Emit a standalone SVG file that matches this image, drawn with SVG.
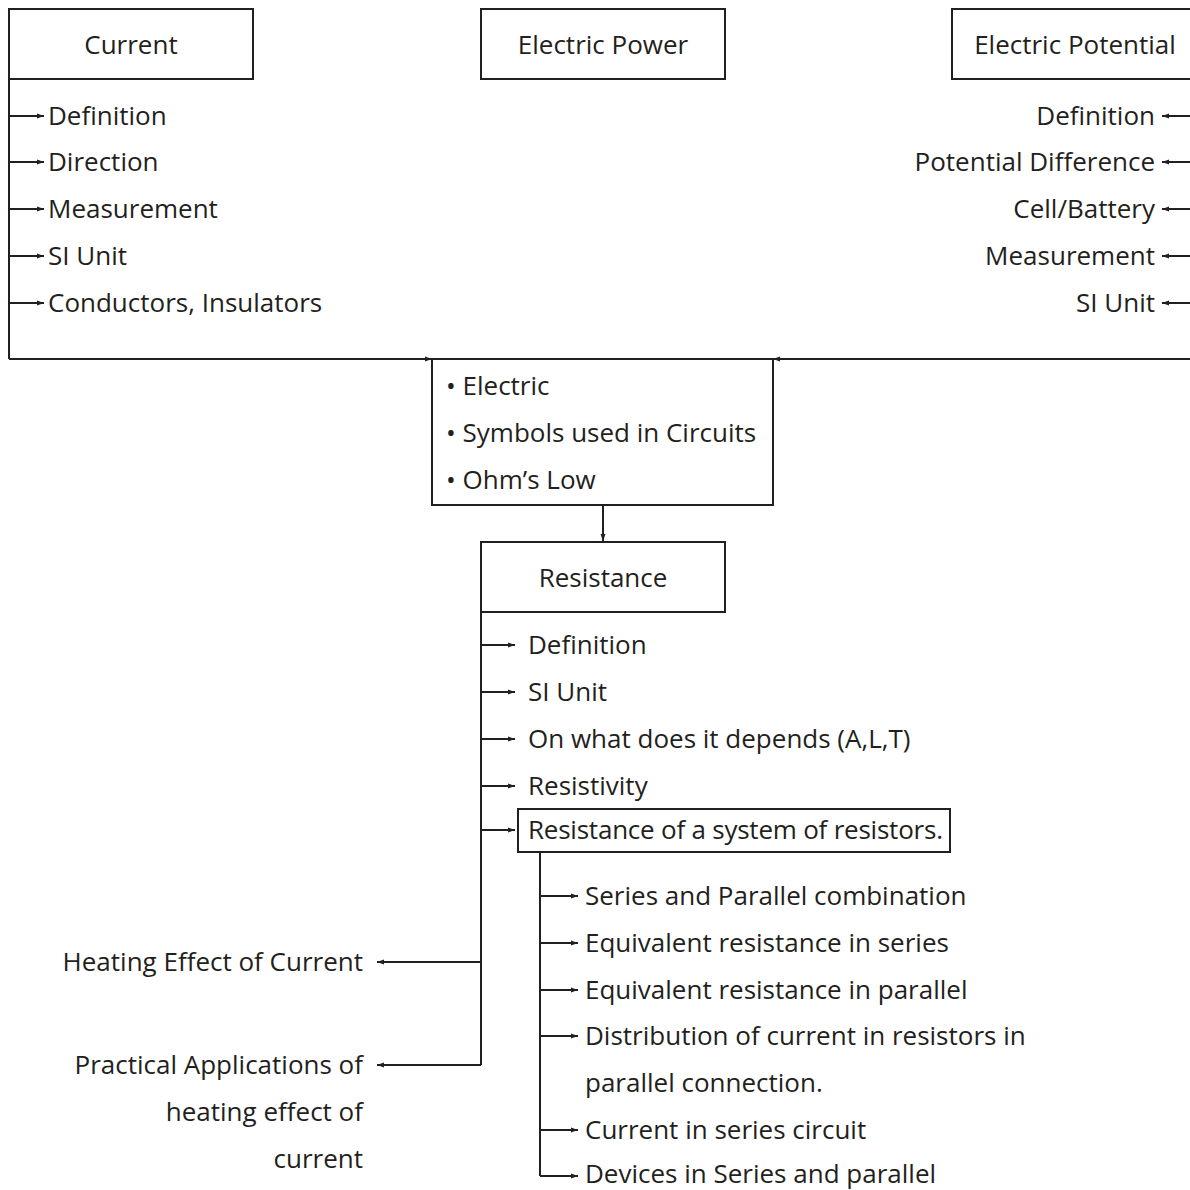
<svg xmlns="http://www.w3.org/2000/svg" width="1190" height="1190" viewBox="0 0 1190 1190">
<defs>
<marker id="ah" markerUnits="userSpaceOnUse" markerWidth="8" markerHeight="7" refX="7" refY="3.5" orient="auto">
<path d="M0,1 L7,3.5 L0,6 z" fill="#231f20"/>
</marker>
<style>
text{font-family:"Open Sans","Noto Sans",sans-serif;font-size:26px;fill:#231f20}
.box{fill:none;stroke:#231f20;stroke-width:2}
.ln{fill:none;stroke:#231f20;stroke-width:2}
.ar{fill:none;stroke:#231f20;stroke-width:2;marker-end:url(#ah)}
.m{text-anchor:middle}
.e{text-anchor:end}
</style>
</defs>
<rect width="1190" height="1190" fill="#fff"/>
<g id="connectors">
<path class="ln" d="M9,79 V359"/>
<path class="ar" d="M9,359 H432"/>
<path class="ln" d="M1191,79 V359"/>
<path class="ar" d="M1191,359 H773"/>
<path class="ar" d="M9,116 H44"/>
<path class="ar" d="M9,162 H44"/>
<path class="ar" d="M9,209 H44"/>
<path class="ar" d="M9,256 H44"/>
<path class="ar" d="M9,303 H44"/>
<path class="ar" d="M1191,116 H1162"/>
<path class="ar" d="M1191,162 H1162"/>
<path class="ar" d="M1191,209 H1162"/>
<path class="ar" d="M1191,256 H1162"/>
<path class="ar" d="M1191,303 H1162"/>
<path class="ar" d="M603,505 V541"/>
<path class="ln" d="M481,612 V1065"/>
<path class="ar" d="M481,645 H515"/>
<path class="ar" d="M481,692 H515"/>
<path class="ar" d="M481,739 H515"/>
<path class="ar" d="M481,786 H515"/>
<path class="ar" d="M481,830 H515"/>
<path class="ar" d="M481,962 H377"/>
<path class="ar" d="M481,1065 H377"/>
<path class="ln" d="M540,852 V1176"/>
<path class="ar" d="M540,896 H578"/>
<path class="ar" d="M540,943 H578"/>
<path class="ar" d="M540,990 H578"/>
<path class="ar" d="M540,1036 H578"/>
<path class="ar" d="M540,1130 H578"/>
<path class="ar" d="M540,1176 H578"/>
</g>
<g id="current">
<rect class="box" x="9" y="9" width="244" height="70"/>
<text class="m" x="131" y="54">Current</text>
</g>
<g id="current-items">
<text x="48" y="125">Definition</text>
<text x="48" y="171">Direction</text>
<text x="48" y="218">Measurement</text>
<text x="48" y="265">SI Unit</text>
<text x="48" y="312">Conductors, Insulators</text>
</g>
<g id="electric-power">
<rect class="box" x="481" y="9" width="244" height="70"/>
<text class="m" x="603" y="54">Electric Power</text>
</g>
<g id="electric-potential">
<rect class="box" x="952" y="9" width="250" height="70"/>
<text class="m" x="1075" y="54">Electric Potential</text>
</g>
<g id="potential-items">
<text class="e" x="1155" y="125">Definition</text>
<text class="e" x="1155" y="171">Potential Difference</text>
<text class="e" x="1155" y="218">Cell/Battery</text>
<text class="e" x="1155" y="265">Measurement</text>
<text class="e" x="1155" y="312">SI Unit</text>
</g>
<g id="electric-circuit">
<rect class="box" x="432" y="359" width="341" height="146"/>
<text x="446" y="395">• Electric</text>
<text x="446" y="442">• Symbols used in Circuits</text>
<text x="446" y="489">• Ohm’s Low</text>
</g>
<g id="resistance">
<rect class="box" x="481" y="542" width="244" height="70"/>
<text class="m" x="603" y="587">Resistance</text>
</g>
<g id="resistance-items">
<text x="528" y="654">Definition</text>
<text x="528" y="701">SI Unit</text>
<text x="528" y="748">On what does it depends (A,L,T)</text>
<text x="528" y="795">Resistivity</text>
</g>
<g id="system">
<rect class="box" x="518" y="809" width="432" height="43"/>
<text x="528" y="839" textLength="415" lengthAdjust="spacing">Resistance of a system of resistors.</text>
</g>
<g id="system-items">
<text x="585" y="905">Series and Parallel combination</text>
<text x="585" y="952">Equivalent resistance in series</text>
<text x="585" y="999">Equivalent resistance in parallel</text>
<text x="585" y="1045">Distribution of current in resistors in</text>
<text x="585" y="1092">parallel connection.</text>
<text x="585" y="1139">Current in series circuit</text>
<text x="585" y="1183">Devices in Series and parallel</text>
</g>
<g id="heating">
<text class="e" x="363" y="971">Heating Effect of Current</text>
</g>
<g id="applications">
<text class="e" x="363" y="1074">Practical Applications of</text>
<text class="e" x="363" y="1121">heating effect of</text>
<text class="e" x="363" y="1168">current</text>
</g>
</svg>
